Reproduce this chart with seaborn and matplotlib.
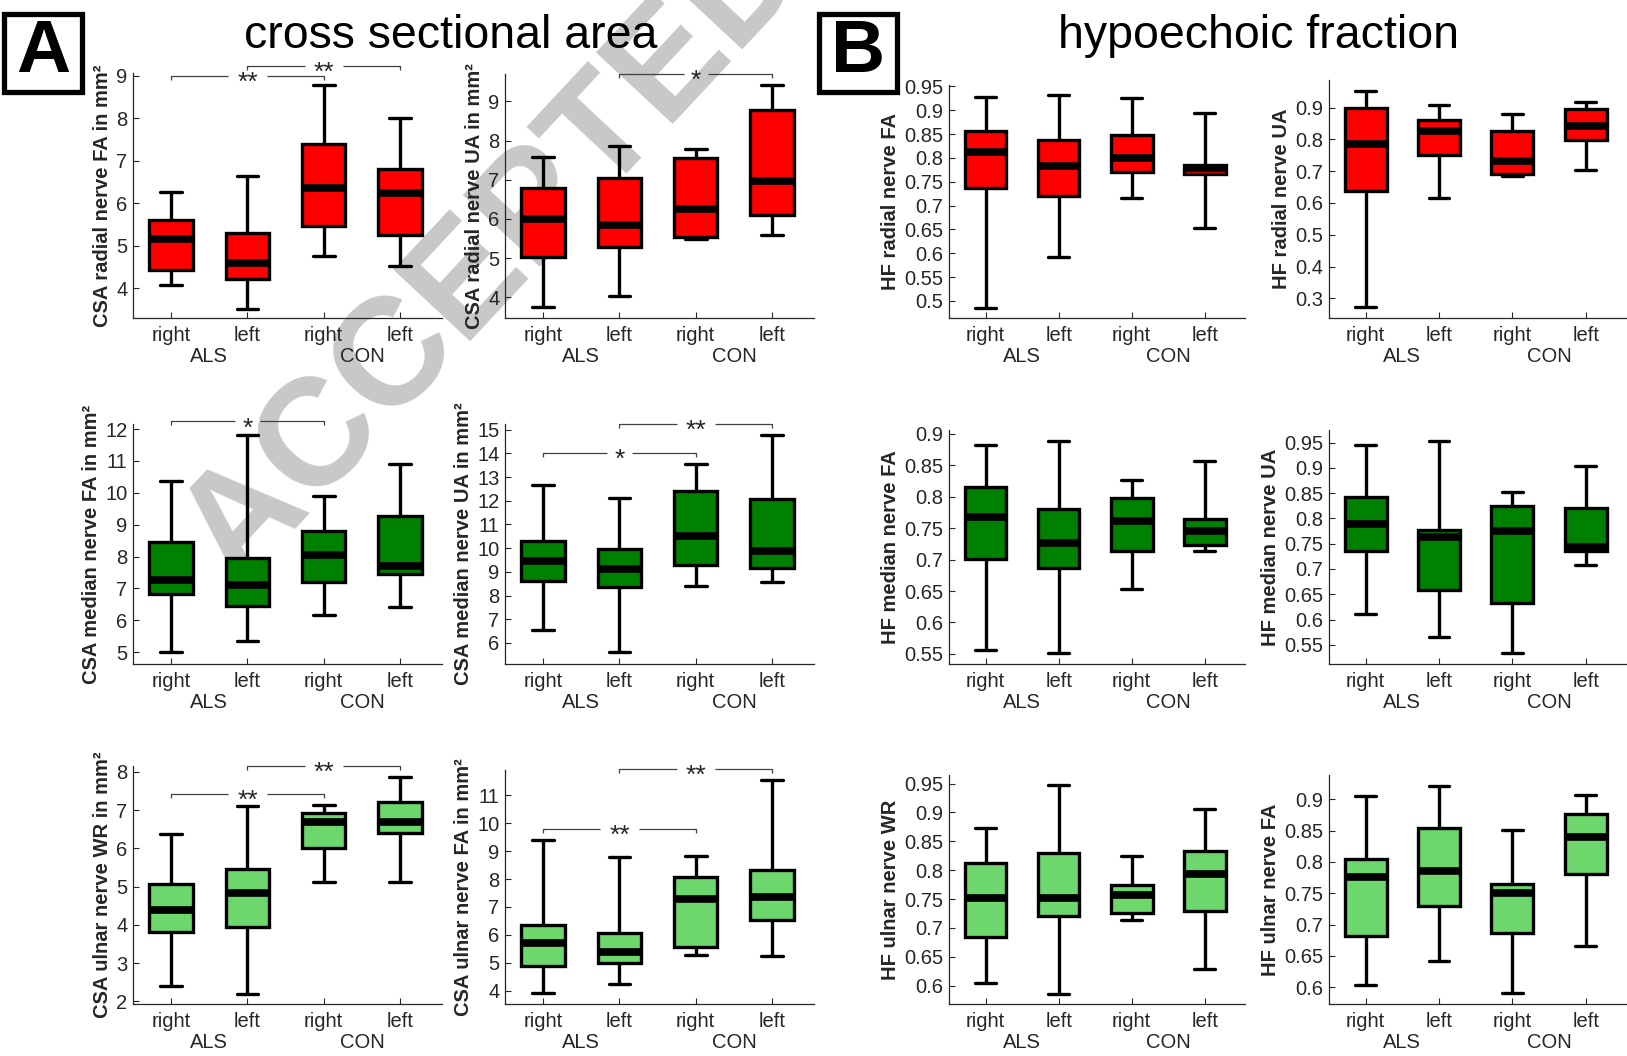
import numpy as np
import pandas as pd
import matplotlib
matplotlib.use("Agg")
import matplotlib.pyplot as plt
import matplotlib.transforms as mtransforms
from matplotlib.ticker import MultipleLocator, FuncFormatter
import seaborn as sns

# ---- data (five-number summaries: low whisker, Q1, median, Q3, high whisker)
conditions = ["ALS right", "ALS left", "CON right", "CON left"]
side_labels = ["right", "left", "right", "left"]
group_labels = ["ALS", "CON"]

csa_radial_fa = [[4.08, 4.42, 5.15, 5.60, 6.27], [3.52, 4.22, 4.60, 5.30, 6.63],
                 [4.75, 5.47, 6.35, 7.40, 8.78], [4.52, 5.25, 6.25, 6.80, 8.00]]
csa_radial_ua = [[3.76, 5.04, 6.00, 6.80, 7.57], [4.04, 5.29, 5.84, 7.05, 7.85],
                 [5.49, 5.55, 6.26, 7.55, 7.79], [5.58, 6.09, 6.96, 8.79, 9.41]]
csa_median_fa = [[5.00, 6.84, 7.28, 8.47, 10.37], [5.36, 6.45, 7.11, 7.96, 11.81],
                 [6.17, 7.21, 8.06, 8.81, 9.91], [6.43, 7.44, 7.72, 9.27, 10.89]]
csa_median_ua = [[6.56, 8.61, 9.47, 10.32, 12.67], [5.60, 8.37, 9.14, 9.98, 12.13],
                 [8.39, 9.30, 10.52, 12.41, 13.57], [8.58, 9.16, 9.86, 12.07, 14.79]]
csa_ulnar_wr = [[2.39, 3.80, 4.38, 5.06, 6.38], [2.20, 3.93, 4.83, 5.46, 7.11],
                [5.12, 6.00, 6.69, 6.93, 7.13], [5.12, 6.40, 6.69, 7.20, 7.86]]
csa_ulnar_fa = [[3.91, 4.90, 5.72, 6.36, 9.41], [4.22, 4.98, 5.40, 6.08, 8.78],
                [5.28, 5.57, 7.28, 8.09, 8.84], [5.23, 6.54, 7.35, 8.32, 11.54]]

hf_radial_fa = [[0.486, 0.737, 0.813, 0.856, 0.927], [0.593, 0.719, 0.782, 0.838, 0.932],
                [0.715, 0.771, 0.800, 0.849, 0.925], [0.652, 0.766, 0.778, 0.786, 0.894]]
hf_radial_ua = [[0.273, 0.637, 0.785, 0.900, 0.952], [0.617, 0.752, 0.828, 0.860, 0.909],
                [0.685, 0.690, 0.733, 0.827, 0.881], [0.705, 0.798, 0.841, 0.897, 0.919]]
hf_median_fa = [[0.557, 0.701, 0.767, 0.816, 0.882], [0.552, 0.687, 0.727, 0.780, 0.889],
                [0.653, 0.713, 0.762, 0.798, 0.826], [0.713, 0.723, 0.745, 0.765, 0.856]]
hf_median_ua = [[0.611, 0.736, 0.789, 0.843, 0.945], [0.565, 0.659, 0.763, 0.777, 0.954],
                [0.534, 0.633, 0.775, 0.824, 0.852], [0.708, 0.735, 0.744, 0.820, 0.903]]
hf_ulnar_wr = [[0.605, 0.684, 0.752, 0.813, 0.873], [0.586, 0.720, 0.751, 0.830, 0.947],
               [0.714, 0.726, 0.757, 0.775, 0.825], [0.628, 0.730, 0.794, 0.834, 0.906]]
hf_ulnar_fa = [[0.603, 0.681, 0.776, 0.805, 0.905], [0.641, 0.730, 0.785, 0.854, 0.922],
               [0.590, 0.687, 0.750, 0.765, 0.851], [0.665, 0.780, 0.840, 0.877, 0.907]]

# significance brackets: (from box, to box, height, label)
sig_radial_fa = [(0, 2, 9.0, "**"), (1, 3, 9.22, "**")]
sig_radial_ua = [(1, 3, 9.7, "*")]
sig_median_fa = [(0, 2, 12.24, "*")]
sig_median_ua = [(0, 2, 14.03, "*"), (1, 3, 15.24, "**")]
sig_ulnar_wr = [(0, 2, 7.42, "**"), (1, 3, 8.16, "**")]
sig_ulnar_fa = [(0, 2, 9.80, "**"), (1, 3, 11.94, "**")]

RED = "#ff0000"
GREEN = "#008000"
LIGHT = "#6dd66d"
TXT = "#262626"

sns.set_style("ticks")
plt.rcParams["font.family"] = ["Liberation Sans", "DejaVu Sans"]

W, H = 1627, 1056
fig = plt.figure(figsize=(W / 100, H / 100), dpi=100)

# panel definitions: data, y label, colour, ylim, tick step, brackets, left px, width px, top px, bottom px
panels = [
    (csa_radial_fa, "CSA radial nerve FA in mm²", RED, (3.3, 9.06), 1, sig_radial_fa, 133, 309, 73, 318),
    (csa_radial_ua, "CSA radial nerve UA in mm²", RED, (3.47, 9.7), 1, sig_radial_ua, 505, 309, 74, 318),
    (csa_median_fa, "CSA median nerve FA in mm²", GREEN, (4.63, 12.16), 1, sig_median_fa, 133, 309, 424, 664),
    (csa_median_ua, "CSA median nerve UA in mm²", GREEN, (5.11, 15.24), 1, sig_median_ua, 505, 309, 424, 664),
    (csa_ulnar_wr, "CSA ulnar nerve WR in mm²", LIGHT, (1.93, 8.15), 1, sig_ulnar_wr, 133, 309, 766, 1004),
    (csa_ulnar_fa, "CSA ulnar nerve FA in mm²", LIGHT, (3.52, 11.91), 1, sig_ulnar_fa, 505, 309, 770, 1004),
    (hf_radial_fa, "HF radial nerve FA", RED, (0.464, 0.953), 0.05, [], 949, 296, 85, 318),
    (hf_radial_ua, "HF radial nerve UA", RED, (0.238, 0.987), 0.1, [], 1329, 297, 80, 318),
    (hf_median_fa, "HF median nerve FA", GREEN, (0.534, 0.906), 0.05, [], 949, 296, 430, 664),
    (hf_median_ua, "HF median nerve UA", GREEN, (0.512, 0.975), 0.05, [], 1329, 297, 430, 664),
    (hf_ulnar_wr, "HF ulnar nerve WR", LIGHT, (0.568, 0.965), 0.05, [], 949, 296, 775, 1004),
    (hf_ulnar_fa, "HF ulnar nerve FA", LIGHT, (0.573, 0.939), 0.05, [], 1329, 297, 775, 1004),
]

# watermark behind everything
fig.text(238 / W, 1 - 590 / H, "ACCEPTED MANUSCRIPT", rotation=47, rotation_mode="anchor",
         ha="left", va="baseline", fontsize=110, fontweight="bold", color="#c8c8c8", zorder=-5)

for vals, ylabel, color, ylim, step, sigs, left, width, top, bottom in panels:
    ax = fig.add_axes([left / W, 1 - bottom / H, width / W, (bottom - top) / H])
    ax.patch.set_alpha(0)
    df = pd.DataFrame({
        "cond": np.repeat(conditions, 5),
        "value": np.concatenate(vals),
    })
    sns.boxplot(data=df, x="cond", y="value", order=conditions, color=color, saturation=1,
                width=0.57, whis=(0, 100), linecolor="black", linewidth=2.4,
                medianprops={"linewidth": 5.5, "color": "black"}, showfliers=False, ax=ax)
    ax.set_xlim(-0.5, 3.55)
    ax.set_ylim(*ylim)
    ax.yaxis.set_major_locator(MultipleLocator(step))
    ax.yaxis.set_major_formatter(FuncFormatter(lambda v, p: "%g" % round(v, 3)))
    ax.set_xticks(range(4))
    ax.set_xticklabels(side_labels)
    ax.set_xlabel("")
    ax.set_ylabel(ylabel, fontsize=14.5, fontweight="bold", color=TXT, labelpad=3)
    ax.tick_params(direction="in", length=4, width=0.8, labelsize=14.5, colors=TXT, pad=4)
    ax.tick_params(axis="x", pad=6)
    sns.despine(ax=ax)
    for s in ("left", "bottom"):
        ax.spines[s].set_color(TXT)
        ax.spines[s].set_linewidth(0.9)

    # group labels under the side labels
    trans = mtransforms.blended_transform_factory(ax.transData, ax.transAxes)
    off = mtransforms.offset_copy(trans, fig=fig, y=-39, units="dots")
    for gi, g in enumerate(group_labels):
        ax.text(2 * gi + 0.5, 0, g, transform=off, ha="center", va="center",
                fontsize=14.5, color=TXT)

    # significance brackets
    span = ylim[1] - ylim[0]
    tick = span * 4 / (bottom - top)
    star_tr = mtransforms.offset_copy(ax.transData, fig=fig, y=-14, units="dots")
    for i, j, y, lab in sigs:
        mid = (i + j) / 2
        gap = 0.25 if len(lab) == 2 else 0.16
        kw = dict(color="#404040", lw=0.9, clip_on=False, solid_capstyle="butt")
        ax.plot([i, i, mid - gap], [y - tick, y, y], **kw)
        ax.plot([mid + gap, j, j], [y, y, y - tick], **kw)
        ax.text(mid, y, lab, transform=star_tr, ha="center", va="baseline",
                fontsize=19, color=TXT, clip_on=False)

# panel titles
fig.text(451 / W, 1 - 36 / H, "cross sectional area", ha="center", va="center", fontsize=33.5, color="black")
fig.text(1258 / W, 1 - 36 / H, "hypoechoic fraction", ha="center", va="center", fontsize=33.5, color="black")

# panel letters in boxes
for x0, letter in ((4, "A"), (819, "B")):
    fig.add_artist(plt.Rectangle((x0 / W, 1 - 92 / H), 78 / W, 78 / H, transform=fig.transFigure,
                                 fill=False, edgecolor="black", lw=3.8))
    fig.text((x0 + 39) / W, 1 - 53 / H, letter, ha="center", va="center",
             fontsize=54, fontweight="bold", color="black")

fig.savefig("out.png", dpi=100)
